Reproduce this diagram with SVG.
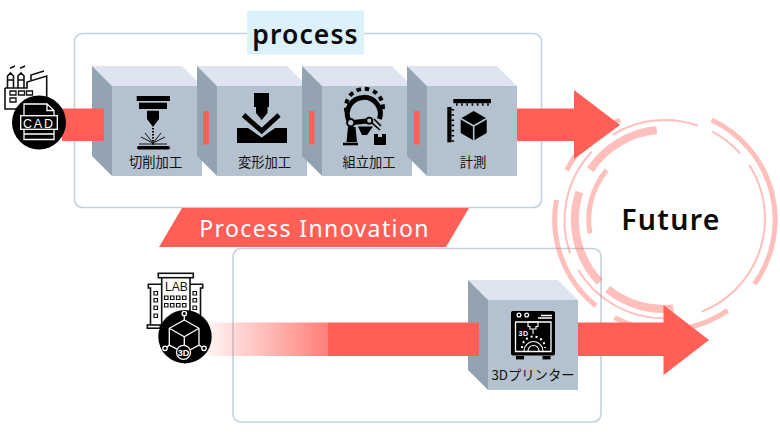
<svg xmlns="http://www.w3.org/2000/svg" width="780" height="439" viewBox="0 0 780 439">
<style>
.panel{fill:none;stroke:#c5d0dd;stroke-width:1.6}
.ring{fill:none;stroke:#ff5f57;stroke-opacity:.4}
.top{fill:#dfe4f1}.side{fill:#94a3b1}.front{fill:#b3c2ce}
.lbl{font-family:"Noto Sans CJK JP","Noto Sans",sans-serif;font-size:13.3px;font-weight:400;fill:#111;text-anchor:middle}
.head{font-family:"Noto Sans","DejaVu Sans",sans-serif;font-weight:600;fill:#0a0a0a;text-anchor:middle}
.arrow{fill:#ff5f57}
.ol{fill:none;stroke:#111;stroke-width:1.6}
.wl{fill:none;stroke:#fff;stroke-width:1.3}
.k{fill:#000}
</style>
<defs>
<linearGradient id="fade" gradientUnits="userSpaceOnUse" x1="205" y1="0" x2="328" y2="0">
<stop offset="0" stop-color="#ff5f57" stop-opacity="0.05"/><stop offset="1" stop-color="#ff5f57" stop-opacity=".8"/>
</linearGradient>
<g id="cube">
<path class="top" d="M0 0H90L110 20H20Z"/>
<path class="side" d="M0 0L20 20V110L0 90Z"/>
<rect class="front" x="20" y="20" width="90" height="90"/>
</g>
</defs>

<g id="panels">
<rect id="panel-process" class="panel" x="74.5" y="33.5" width="467" height="174" rx="8"/>
<rect id="panel-innovation" class="panel" x="233" y="248.5" width="368" height="173.5" rx="8"/>
</g>

<g id="future-rings">
<g class="ring" stroke-width="5">
<path d="M711.7 120A110 110 0 0 1 754.4 284"/>
<path d="M727.6 310.4A110 110 0 0 1 614.5 317.7"/>
<path d="M596 305.8A110 110 0 0 1 556.5 200"/>
<path d="M566.7 170A110 110 0 0 1 620 120"/>
<path d="M606.7 170A77 77 0 0 0 590 233.3"/>
</g>
<g class="ring" stroke-width="2">
<path d="M697.8 125.5A100 100 0 0 0 612.6 134.8"/>
<path d="M591.8 151.8A100 100 0 0 0 570 253.3"/>
<path d="M578.3 270A100 100 0 0 0 663.3 318.3"/>
<path d="M701.7 311.7A100 100 0 0 0 749.3 165"/>
<path d="M712.3 131.7A100 100 0 0 1 740 153.3"/>
</g>
<g class="ring" stroke-width="8">
<path d="M656.7 130A90 90 0 0 0 590.4 169.7"/>
<path d="M579.3 192A90 90 0 0 0 599.7 282"/>
<path d="M607.6 289.2A90 90 0 0 0 673.3 308.6"/>
</g>
</g>

<g id="node-cutting">
<use href="#cube" x="92" y="66"/>
<rect class="k" x="136.7" y="96" width="33.3" height="5"/>
<rect class="k" x="139" y="102.7" width="28" height="6.3"/>
<path class="k" d="M147 110.7H159V119L153 127L147 119Z"/>
<path d="M153 128V145" fill="none" stroke="#000" stroke-width="2" stroke-dasharray="1.6 1.4"/>
<path d="M153 143L141 137M153 143L165 137M153 143L145 133M153 143L161 133M153 144H139M153 144H167" fill="none" stroke="#000" stroke-width=".9"/>
<rect class="k" x="137" y="146" width="33" height="3.5" rx="1.7"/>
<text class="lbl" x="155.6" y="167">切削加工</text>
</g>

<g id="node-forming">
<use href="#cube" x="197" y="66"/>
<path class="k" d="M254 93H269V107H267.5V113L261.7 120L256 113V107H254Z"/>
<path d="M243.5 115L261.7 131L279 115" fill="none" stroke="#000" stroke-width="5"/>
<path class="k" d="M237 128H248L261.7 137.5L275 128H287V143H237Z"/>
<text class="lbl" x="264.5" y="167">変形加工</text>
</g>

<g id="node-assembly">
<use href="#cube" x="302" y="66"/>
<path d="M348.5 120A16.5 16.5 0 1 1 379.5 119" fill="none" stroke="#000" stroke-width="5"/>
<path d="M346.5 112A18.5 18.5 0 1 1 382 113" fill="none" stroke="#000" stroke-width="4" stroke-dasharray="4.5 4"/>
<path d="M351 122.7L369.3 120.7" fill="none" stroke="#000" stroke-width="5"/>
<path d="M369.3 120.7L380 130M374 119L381 126" fill="none" stroke="#000" stroke-width="1.6"/>
<path class="k" d="M358 126.5H373L367 135H362ZM348 127H355.5L357 142H346.5Z"/>
<circle cx="350.7" cy="122.7" r="3.6" fill="#b3c2ce" stroke="#000" stroke-width="2"/>
<circle cx="369.3" cy="120.7" r="3" fill="#b3c2ce" stroke="#000" stroke-width="1.8"/>
<rect class="k" x="343" y="142.7" width="15" height="2.6"/>
<path class="k" d="M374 134H378V137H382V134H386V145H374Z"/>
<text class="lbl" x="369" y="167">組立加工</text>
</g>

<g id="node-measure">
<use href="#cube" x="407" y="66"/>
<rect class="k" x="453.3" y="99" width="37.7" height="4.2"/>
<path d="M456 104.5H491" fill="none" stroke="#000" stroke-width="2.6" stroke-dasharray="1.6 3.6"/>
<rect class="k" x="447.3" y="107" width="4.2" height="35.3"/>
<path d="M452.8 109V142" fill="none" stroke="#000" stroke-width="2.6" stroke-dasharray="1.6 3.6"/>
<path class="k" d="M473.7 111L486.7 118.5V133L473.7 140.5L460.7 133V118.5Z"/>
<path d="M460.7 118.5L473.7 126L486.7 118.5M473.7 126V140.5" fill="none" stroke="#b3c2ce" stroke-width="1.6"/>
<text class="lbl" x="473" y="167">計測</text>
</g>

<g id="node-printer">
<use href="#cube" x="468" y="280"/>
<rect class="k" x="511" y="311" width="44" height="44.5" rx="2"/>
<rect class="k" x="516" y="356" width="8" height="3.4"/>
<rect class="k" x="542.5" y="356" width="8" height="3.4"/>
<circle class="wl" cx="519" cy="315" r="1.9"/>
<circle class="wl" cx="526.7" cy="315" r="1.9"/>
<path class="wl" d="M541 315.5H552M538 318H552M515.5 322V351.5H551V322Z"/>
<path d="M528 322H538V326.5H536V329H530V326.5H528ZM533 329V334" fill="none" stroke="#fff" stroke-width="1.1"/>
<text x="523.5" y="336" font-family="'Liberation Sans',sans-serif" font-size="7" font-weight="700" letter-spacing=".6" fill="#fff" text-anchor="middle">3D</text>
<path d="M524 351A9.5 9.5 0 0 1 543 351M528 351A5.5 5.5 0 0 1 539 351" fill="none" stroke="#fff" stroke-width="1.1"/>
<path d="M522 348A11.5 11.5 0 0 1 545 348" fill="none" stroke="#fff" stroke-width="2" stroke-dasharray="2 3"/>
<text class="lbl" x="533" y="380">3Dプリンター</text>
</g>

<g id="connectors">
<rect class="arrow" x="62" y="108.5" width="42" height="32.5"/>
<rect class="arrow" x="203" y="111" width="6" height="33.5"/>
<rect class="arrow" x="309" y="111" width="5.5" height="33.5"/>
<rect class="arrow" x="414" y="111" width="5.5" height="33.5"/>
<path class="arrow" d="M517 108.5H574V90L620 125L574 159V141H517Z"/>
<rect x="205" y="322.5" width="123" height="33.5" fill="url(#fade)"/>
<rect class="arrow" x="328" y="322.5" width="151" height="33.5"/>
<path class="arrow" d="M578 322.5H663.5V305L709 340L663.5 375V356H578Z"/>
</g>

<g id="label-process">
<rect x="247" y="10.5" width="117" height="44" rx="1.5" fill="#dcf1fa"/>
<text class="head" x="305.5" y="43.5" font-size="26.5" letter-spacing="1.1">process</text>
</g>

<g id="label-innovation">
<path d="M182 208H469L446 247H159Z" fill="#ff5f57"/>
<text x="314.5" y="236.5" font-family="'Noto Sans',sans-serif" font-size="23" letter-spacing="1.4" fill="#fff" text-anchor="middle">Process Innovation</text>
</g>

<g id="node-future">
<text class="head" x="671" y="229.5" font-size="28.5" letter-spacing="1.3">Future</text>
</g>

<g id="node-cad">
<g class="ol">
<path d="M10 68.3L15 66M20 68.3L25 66"/>
<path d="M7.5 88V76L10.5 73L13.5 76V88M18 88V76L21 73L24 76V88M7.5 80H13.5M18 80H24"/>
<path d="M5 88H27V82L46.7 76V110M5 88V109H20"/>
<path d="M31 80V75L44 71"/>
<path d="M10 91h6v4h-6zM18.5 91h6v4h-6zM26.5 91h6v4h-6zM10 98h6v4h-6z" stroke-width="1.3"/>
</g>
<circle class="k" cx="39" cy="122.5" r="27"/>
<path class="wl" d="M24 115.7V104H47L54 110.5V115.7M47 104V110.5H54M24 129.3V139.5H54V129.3M24 134H54"/>
<rect class="wl" x="20.7" y="115.7" width="36.6" height="13.6"/>
<text x="38.9" y="127.8" font-family="'Liberation Sans',sans-serif" font-size="12.5" letter-spacing="1.8" fill="#fff" text-anchor="middle">CAD</text>
</g>

<g id="node-lab">
<g class="ol">
<rect x="158.3" y="273.3" width="35" height="4.4"/>
<path d="M161.7 277.7V325M190 277.7V320"/>
<path d="M161.7 284.3H148.3V288H150.5V325M190 284.3H202.7V288H200.5V320"/>
<rect x="147.3" y="325" width="13" height="3.2"/>
<path d="M164.5 296h3.5v3.5h-3.5zM170.5 296h3.5v3.5h-3.5zM176.5 296h3.5v3.5h-3.5zM182.5 296h3.5v3.5h-3.5zM164.5 303.5h3.5v3.5h-3.5zM170.5 303.5h3.5v3.5h-3.5zM176.5 303.5h3.5v3.5h-3.5zM182.5 303.5h3.5v3.5h-3.5zM154 291.5h3.5v3.5h-3.5zM154 298.5h3.5v3.5h-3.5zM154 306h3.5v3.5h-3.5zM154 314h3.5v3.5h-3.5zM193 291.5h3.5v3.5h-3.5zM193 298.5h3.5v3.5h-3.5zM193 306h3.5v3.5h-3.5z" stroke-width="1.2"/>
</g>
<text x="176.3" y="291" font-family="'Liberation Sans',sans-serif" font-size="12" fill="#111" text-anchor="middle">LAB</text>
<circle class="k" cx="185" cy="336.7" r="26.7"/>
<path class="wl" d="M184.3 320L199 328.3V345L184.3 353L169.3 345V328.3ZM169.3 328.3L184.3 336.7L199 328.3M184.3 336.7V346M184.3 315.5V320M169.3 345L167 347M199 345L201.5 347"/>
<circle class="wl" cx="184.3" cy="313.5" r="2.2"/>
<circle class="wl" cx="165" cy="348.3" r="2.2"/>
<circle class="wl" cx="204" cy="348.3" r="2.2"/>
<circle cx="183.5" cy="352.3" r="7" fill="#000" stroke="#fff" stroke-width="1.3"/>
<text x="183.5" y="355.6" font-family="'Liberation Sans',sans-serif" font-size="9" font-weight="700" fill="#fff" text-anchor="middle">3D</text>
</g>
</svg>
